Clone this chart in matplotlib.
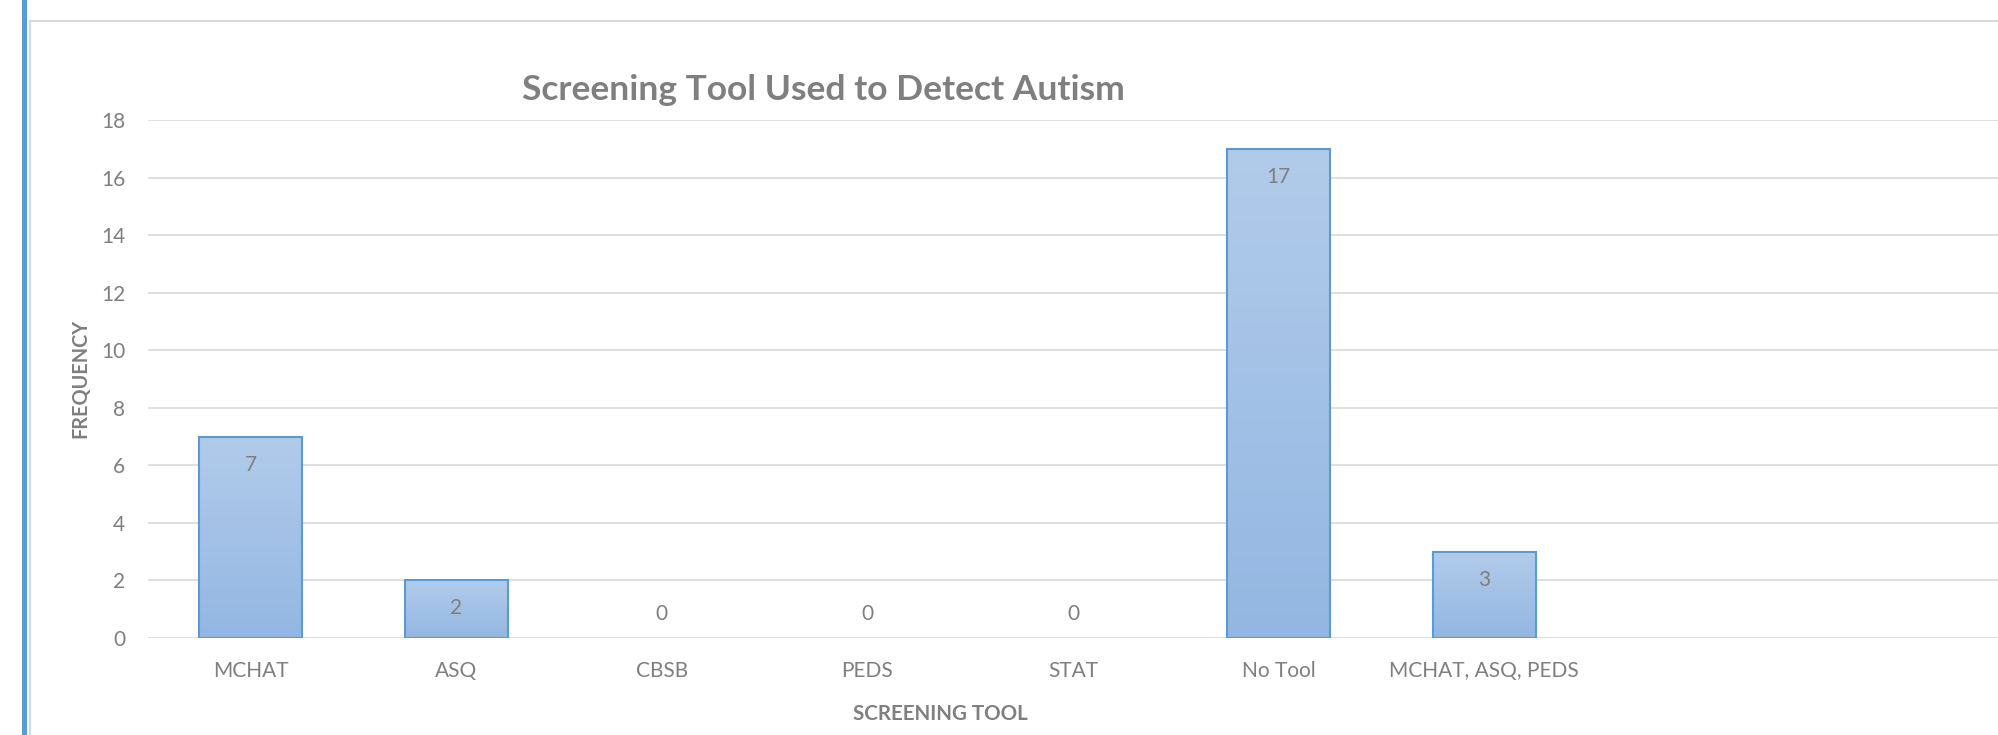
import matplotlib
matplotlib.use("Agg")
import matplotlib.pyplot as plt
import numpy as np
from matplotlib.colors import LinearSegmentedColormap

# data
categories = ["MCHAT", "ASQ", "CBSB", "PEDS", "STAT", "No Tool", "MCHAT, ASQ, PEDS"]
frequency = [7, 2, 0, 0, 0, 17, 3]
y_ticks = [0, 2, 4, 6, 8, 10, 12, 14, 16, 18]

TEXT = "#7f7f7f"
GRID = "#d9d9d9"
EDGE = "#5b9bd5"

plt.rcParams["font.family"] = ["Lato", "DejaVu Sans"]

W, H = 1998, 735
fig = plt.figure(figsize=(W / 100, H / 100), dpi=100)
fig.patch.set_facecolor("white")

# blue stripe on the left and the chart area frame
fig.add_artist(plt.Rectangle((22 / W, 0), 5 / W, 1, transform=fig.transFigure,
                             color=EDGE, lw=0))
fig.add_artist(plt.Line2D([30 / W, 30 / W], [0, 1 - 21 / H], transform=fig.transFigure,
                          color=GRID, lw=1.5))
fig.add_artist(plt.Line2D([30 / W, 1], [1 - 21 / H, 1 - 21 / H], transform=fig.transFigure,
                          color=GRID, lw=1.5))

ax = fig.add_axes([148 / W, (H - 638) / H, 1850 / W, (638 - 120) / H])

x = np.arange(len(categories))
edges = [EDGE if v > 0 else "none" for v in frequency]
bars = ax.bar(x, frequency, width=0.5, color="none", edgecolor=edges, linewidth=1.5, zorder=3)

# vertical gradient fill like the Excel bars
cmap = LinearSegmentedColormap.from_list("bar", ["#93b7e2", "#b2cbea"])
grad = np.linspace(0, 1, 256).reshape(-1, 1)
for b in bars:
    if b.get_height() <= 0:
        continue
    x0, w, h = b.get_x(), b.get_width(), b.get_height()
    im = ax.imshow(grad, cmap=cmap, origin="lower", aspect="auto",
                   extent=(x0, x0 + w, 0, h), zorder=2)
    im.set_clip_path(b)

ax.set_xlim(-0.5, 8.5)
ax.set_ylim(0, 18)

# data labels (inside end)
for xi, v in zip(x, frequency):
    off = -28 if v > 0 else 24
    ax.annotate(str(v), (xi, v), xytext=(0, off), textcoords="offset pixels",
                ha="center", va="center", fontsize=15, color=TEXT, zorder=4)

ax.set_yticks(y_ticks)
ax.set_xticks(x)
ax.set_xticklabels(categories)
ax.grid(axis="y", color=GRID, linewidth=1.2, zorder=0)
ax.set_axisbelow(True)
for s in ax.spines.values():
    s.set_visible(False)
ax.tick_params(axis="both", length=0, labelsize=15, labelcolor=TEXT)
ax.tick_params(axis="y", pad=16.5)
ax.tick_params(axis="x", pad=16.5)

fig.text(823 / W, 1 - 100 / H, "Screening Tool Used to Detect Autism", ha="center",
         va="baseline", fontsize=25.5, fontweight="bold", color=TEXT)
fig.text(80 / W, 1 - 378 / H, "FREQUENCY", rotation=90, ha="center", va="center",
         fontsize=14.3, fontweight="bold", color=TEXT)
fig.text(940 / W, 1 - 714 / H, "SCREENING TOOL", ha="center", va="center",
         fontsize=14.8, fontweight="bold", color=TEXT)

fig.savefig("out.png", dpi=100)
